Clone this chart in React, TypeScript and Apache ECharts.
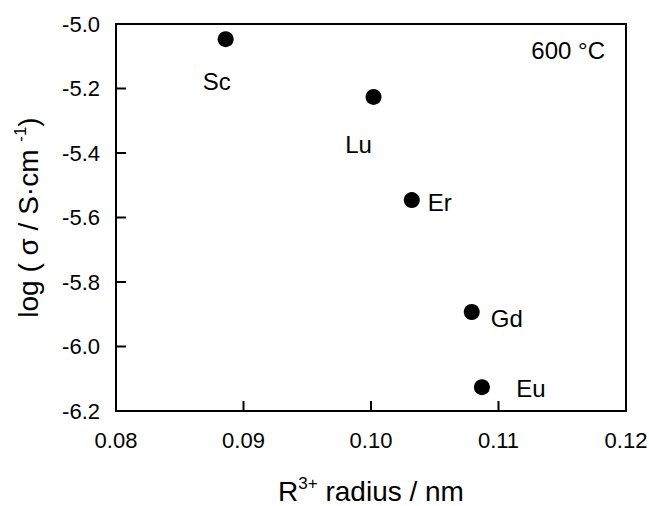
import React, { useEffect, useRef } from "react";
import * as echarts from "echarts";

const elements = ["Sc", "Lu", "Er", "Gd", "Eu"];
const radius = [0.0886, 0.1002, 0.1032, 0.1079, 0.1087];
const logSigma = [-5.047, -5.226, -5.546, -5.893, -6.126];
const labelOffsets: [number, number][] = [
  [-9, 42],
  [-15, 48],
  [28, 2],
  [35, 7],
  [49, 1],
];
const xTicks = { min: 0.08, max: 0.12, interval: 0.01 };
const yTicks = { min: -6.2, max: -5.0, interval: 0.2 };
const xTickValues = [0.08, 0.09, 0.1, 0.11, 0.12];
const yTickValues = [-6.2, -6.0, -5.8, -5.6, -5.4, -5.2, -5.0];
const annotation = "600 °C";

const FONT = "'Liberation Sans', Arial, Helvetica, sans-serif";
const TICK_LEN = 10;

export default function App() {
  const ref = useRef<HTMLDivElement>(null);
  useEffect(() => {
    if (!ref.current) return;
    const chart = echarts.init(ref.current, undefined, { renderer: "svg" });
    const data = elements.map((name, i) => ({
      name,
      value: [radius[i], logSigma[i]],
      label: {
        show: true,
        position: "inside",
        offset: labelOffsets[i],
        formatter: name,
        color: "#000",
        textBorderWidth: 0,
        fontSize: 24,
        fontFamily: FONT,
      },
    }));
    const titleRich = {
      a: { fontSize: 28, fontFamily: FONT, color: "#000", lineHeight: 30, verticalAlign: "bottom" },
      s: { fontSize: 17, fontFamily: FONT, color: "#000", lineHeight: 30, verticalAlign: "top", padding: [0, 0, 6, 0] },
    };
    chart.setOption({
      animation: false,
      backgroundColor: "#fff",
      textStyle: { fontFamily: FONT, color: "#000" },
      grid: {
        left: 116,
        top: 24,
        width: 510,
        height: 387,
        show: false,
        containLabel: false,
        outerBoundsMode: "none",
      },
      xAxis: [
        {
          type: "value",
          position: "bottom",
          min: xTicks.min,
          max: xTicks.max,
          interval: xTicks.interval,
          splitLine: { show: false },
          axisLine: { show: true, onZero: false, lineStyle: { color: "#000", width: 2 } },
          axisTick: { show: false },
          axisLabel: {
            show: true,
            color: "#000",
            fontSize: 22,
            fontFamily: FONT,
            margin: 18,
            formatter: (v: number) => v.toFixed(2),
          },
          name: "{a|R}{s|3+}{a| radius / nm}",
          nameLocation: "middle",
          nameGap: 64,
          nameTextStyle: { rich: titleRich },
        },
        {
          type: "value",
          position: "top",
          min: xTicks.min,
          max: xTicks.max,
          interval: xTicks.interval,
          splitLine: { show: false },
          axisLine: { show: true, onZero: false, lineStyle: { color: "#000", width: 2 } },
          axisTick: { show: false },
          axisLabel: { show: false },
        },
      ],
      yAxis: [
        {
          type: "value",
          position: "left",
          min: yTicks.min,
          max: yTicks.max,
          interval: yTicks.interval,
          splitLine: { show: false },
          axisLine: { show: true, onZero: false, lineStyle: { color: "#000", width: 2 } },
          axisTick: { show: false },
          axisLabel: {
            show: true,
            color: "#000",
            fontSize: 22,
            fontFamily: FONT,
            margin: 16,
            formatter: (v: number) => v.toFixed(1),
          },
          name: "{a|log ( σ / S·cm }{s|-1}{a|)}",
          nameLocation: "middle",
          nameRotate: 90,
          nameGap: 74,
          nameTextStyle: { rich: titleRich },
        },
        {
          type: "value",
          position: "right",
          min: yTicks.min,
          max: yTicks.max,
          interval: yTicks.interval,
          splitLine: { show: false },
          axisLine: { show: true, onZero: false, lineStyle: { color: "#000", width: 2 } },
          axisTick: { show: false },
          axisLabel: { show: false },
        },
      ],
      graphic: [
        {
          type: "text",
          right: 44,
          top: 38,
          style: { text: annotation, fontSize: 24, fontFamily: FONT, fill: "#000" },
        },
      ],
      series: [
        {
          type: "custom",
          name: "xTicks",
          xAxisIndex: 0,
          yAxisIndex: 0,
          clip: false,
          silent: true,
          z: 10,
          data: xTickValues.map((v) => [v, yTicks.min]),
          renderItem: (params: any, api: any) => {
            const p = api.coord([api.value(0), api.value(1)]);
            return {
              type: "line",
              shape: { x1: p[0], y1: p[1], x2: p[0], y2: p[1] - TICK_LEN },
              style: { stroke: "#000", lineWidth: 2 },
            };
          },
        },
        {
          type: "custom",
          name: "yTicks",
          xAxisIndex: 0,
          yAxisIndex: 0,
          clip: false,
          silent: true,
          z: 10,
          data: yTickValues.map((v) => [xTicks.min, v]),
          renderItem: (params: any, api: any) => {
            const p = api.coord([api.value(0), api.value(1)]);
            return {
              type: "line",
              shape: { x1: p[0], y1: p[1], x2: p[0] + TICK_LEN, y2: p[1] },
              style: { stroke: "#000", lineWidth: 2 },
            };
          },
        },
        {
          type: "scatter",
          xAxisIndex: 0,
          yAxisIndex: 0,
          symbol: "circle",
          symbolSize: 16,
          itemStyle: { color: "#000", opacity: 1 },
          data,
        },
      ],
    });
    return () => chart.dispose();
  }, []);
  return (
    <div
      ref={ref}
      style={{ position: "fixed", left: 0, top: 0, width: 649, height: 506, background: "#fff" }}
    />
  );
}
